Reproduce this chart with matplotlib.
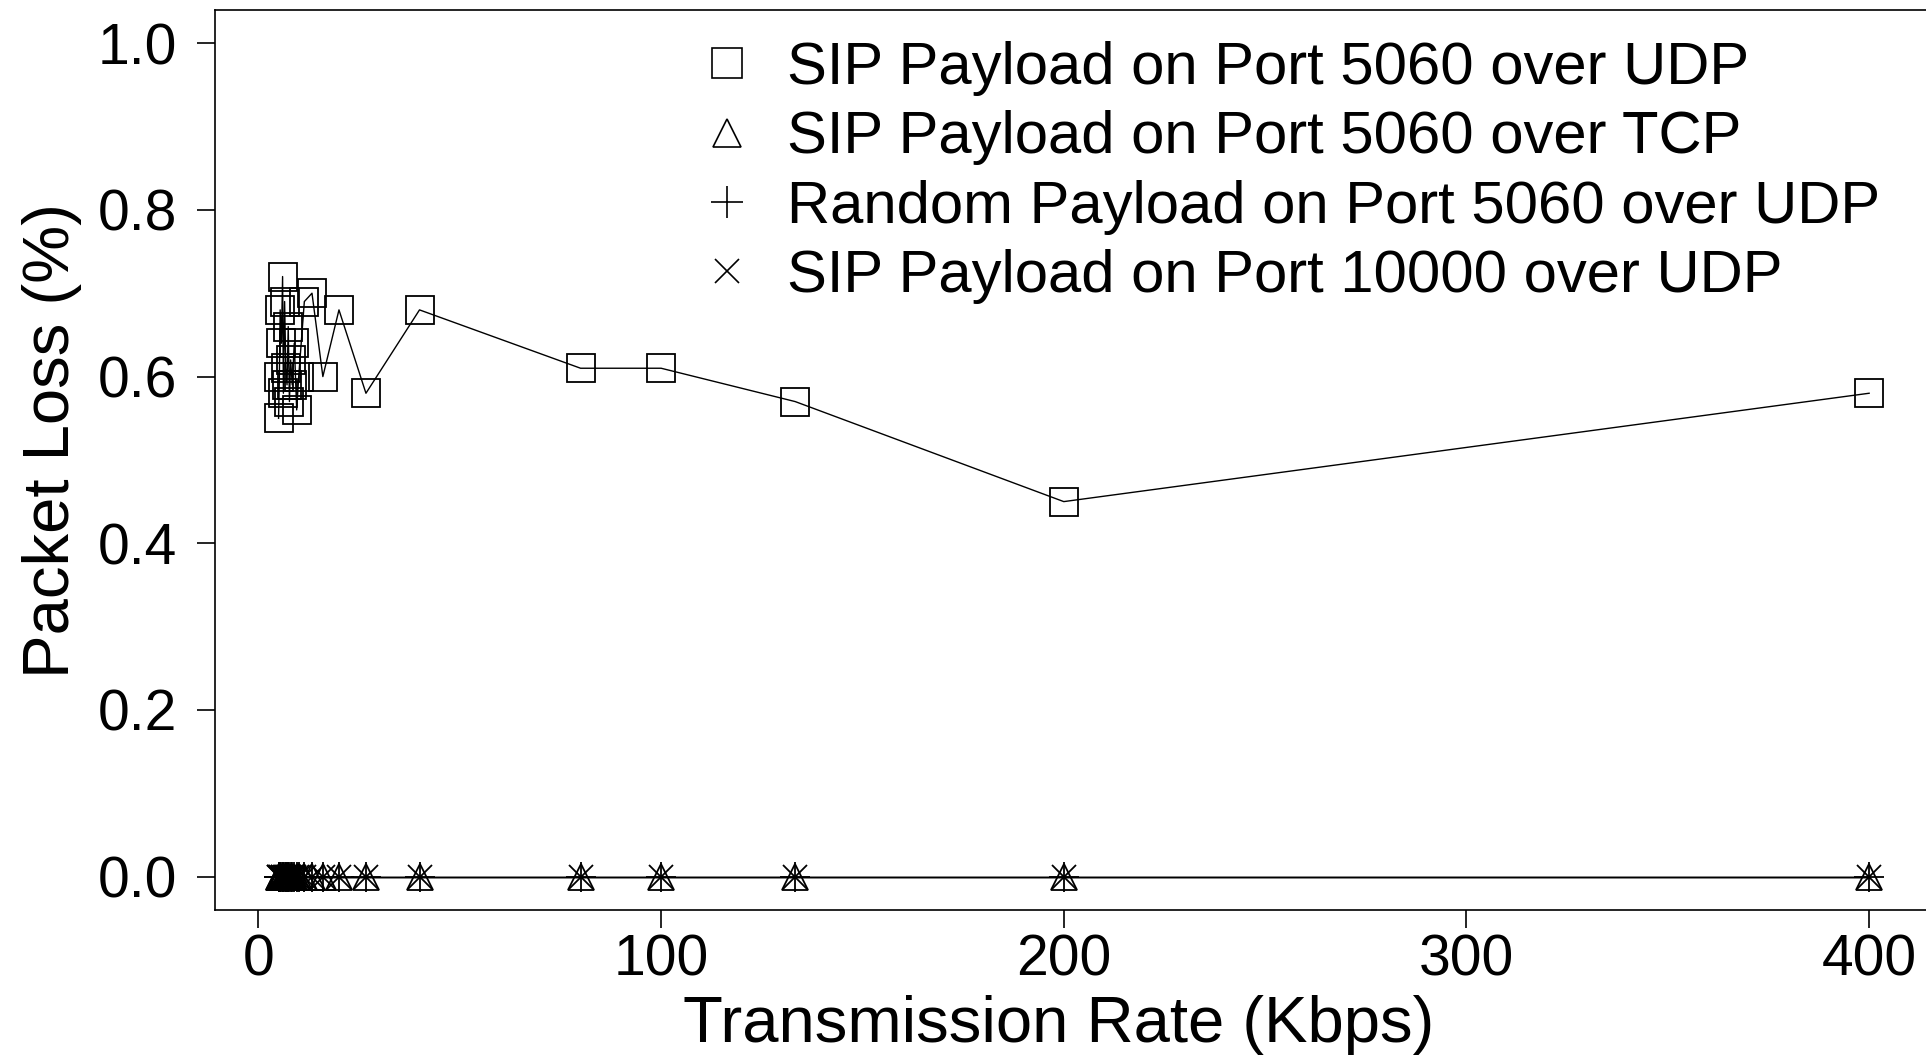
import numpy as np
import matplotlib.pyplot as plt
from matplotlib.lines import Line2D

plt.rcParams['font.family'] = ['Liberation Sans', 'DejaVu Sans']

# transmission rates (Kbps), shared by all four runs
rate = [5.0, 5.2, 5.4, 5.7, 6.0, 6.2, 6.5, 6.8, 7.1, 7.4, 7.7, 8.0, 8.4, 8.9,
        9.5, 10.0, 11.4, 13.3, 16.0, 20.0, 26.7, 40.0, 80.0, 100.0, 133.3,
        200.0, 400.0]

# packet loss (%) for each run
sip_5060_udp = [0.55, 0.60, 0.68, 0.64, 0.72, 0.58, 0.69, 0.61, 0.59, 0.66,
                0.57, 0.62, 0.59, 0.64, 0.56, 0.60, 0.69, 0.70, 0.60, 0.68,
                0.58, 0.68, 0.61, 0.61, 0.57, 0.45, 0.58]
sip_5060_tcp = [0.0] * len(rate)
rnd_5060_udp = [0.0] * len(rate)
sip_10000_udp = [0.0] * len(rate)

labels = ['SIP Payload on Port 5060 over UDP',
          'SIP Payload on Port 5060 over TCP',
          'Random Payload on Port 5060 over UDP',
          'SIP Payload on Port 10000 over UDP']
markers = ['s', '^', '+', 'x']
msizes = [20, 19, 22, 17]

fig = plt.figure(figsize=(19.26, 10.55), dpi=100)
ax = fig.add_axes([0.1116, 0.1374, 0.894, 0.8533])

series = [sip_5060_udp, sip_5060_tcp, rnd_5060_udp, sip_10000_udp]
for y, m, ms in zip(series, markers, msizes):
    ax.plot(rate, y, color='black', lw=1.0, marker=m, ms=ms,
            mfc='none', mec='black', mew=1.3)

ax.set_xlim(-10.8, 416.8)
ax.set_ylim(-0.04, 1.04)
ax.set_xticks([0, 100, 200, 300, 400])
ax.set_yticks([0.0, 0.2, 0.4, 0.6, 0.8, 1.0])
ax.set_yticklabels(['0.0', '0.2', '0.4', '0.6', '0.8', '1.0'])
ax.tick_params(axis='both', labelsize=41, length=13, width=1.2)
ax.tick_params(axis='y', pad=14)
ax.tick_params(axis='x', pad=4)
for s in ax.spines.values():
    s.set_linewidth(1.2)

ax.set_xlabel('Transmission Rate (Kbps)', fontsize=47)
ax.set_ylabel('Packet Loss (%)', fontsize=47)
ax.xaxis.set_label_coords(0.49, -0.094)
ax.yaxis.set_label_coords(-0.077, 0.521)

handles = [Line2D([], [], ls='none', marker=m, ms=ms * 1.05, mfc='none',
                  mec='black', mew=1.2) for m, ms in zip(markers, msizes)]
fig.legend(handles, labels, loc='upper left', bbox_to_anchor=(0.362, 0.961),
           frameon=False, fontsize=43, handlelength=1.0, handletextpad=0.51,
           labelspacing=0.24, borderpad=0, borderaxespad=0)

fig.savefig('out.png', dpi=100)
